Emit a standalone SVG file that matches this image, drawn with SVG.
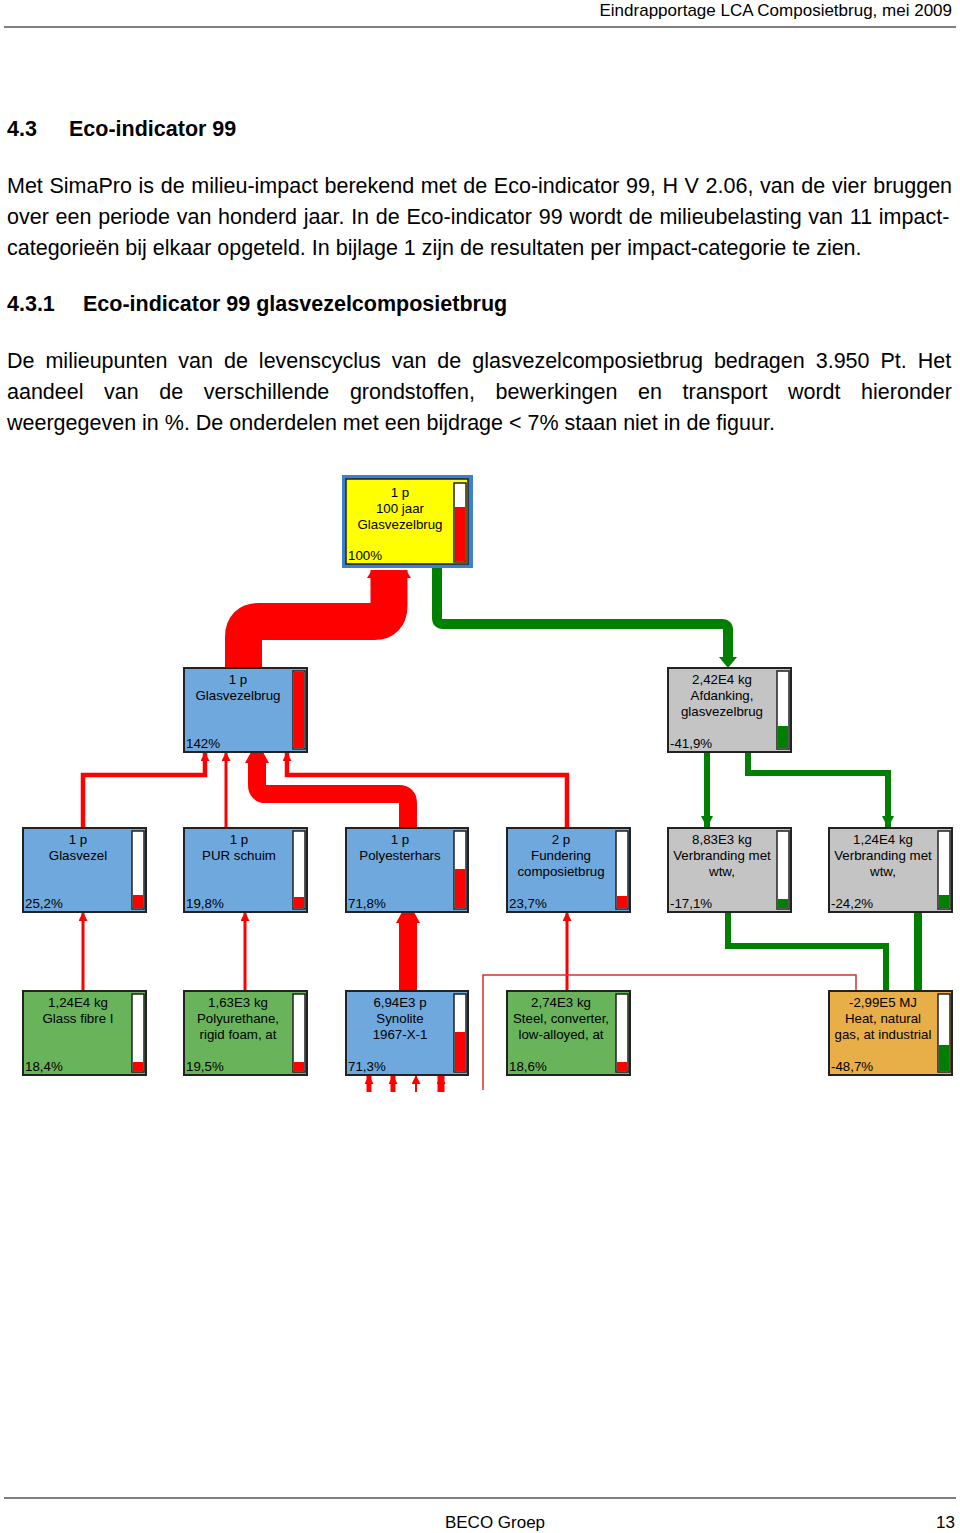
<svg xmlns="http://www.w3.org/2000/svg" width="960" height="1533" viewBox="0 0 960 1533">
<style>
.doc{font-family:"Liberation Sans",Arial,sans-serif;fill:#000}
.body{font-size:21.5px}
.h{font-size:21.5px;font-weight:bold}
.nt{font-family:"Liberation Sans",Arial,sans-serif;font-size:13.3px;fill:#000;text-anchor:middle}
.np{font-family:"Liberation Sans",Arial,sans-serif;font-size:13.3px;fill:#000}
.nb{stroke:#222;stroke-width:2}
.blue{fill:#6fa8dc}
.gray{fill:#c4c4c4}
.grn{fill:#69b35b}
.org{fill:#e8ae48}
.bar{fill:#fff;stroke:#222;stroke-width:1.5}
.fr{fill:#ff0000}
.fg{fill:#008000}
.cr{fill:none;stroke:#ff0000}
.cg{fill:none;stroke:#008000}
.rule{stroke:#555;stroke-width:1.5}
</style>
<defs>
<marker id="ar" viewBox="0 0 10 10" refX="10" refY="5" markerWidth="9" markerHeight="9" markerUnits="userSpaceOnUse" orient="auto"><path d="M0,0 L10,5 L0,10 z" fill="#ff0000"/></marker>
<marker id="ag" viewBox="0 0 10 10" refX="10" refY="5" markerWidth="12" markerHeight="14" markerUnits="userSpaceOnUse" orient="auto"><path d="M0,0 L10,5 L0,10 z" fill="#008000"/></marker>
</defs>
<rect width="960" height="1533" fill="#fff"/>

<!-- page header / text -->
<g id="page-text" class="doc">
<text x="952" y="16" font-size="17" text-anchor="end">Eindrapportage LCA Composietbrug, mei 2009</text>
<line class="rule" x1="4" y1="27" x2="956" y2="27"/>
<text class="h" x="7" y="136">4.3</text>
<text class="h" x="69" y="136">Eco-indicator 99</text>
<text class="body" x="7" y="193" word-spacing="0.66">Met SimaPro is de milieu-impact berekend met de Eco-indicator 99, H V 2.06, van de vier bruggen</text>
<text class="body" x="7" y="224" word-spacing="0.78">over een periode van honderd jaar. In de Eco-indicator 99 wordt de milieubelasting van 11 impact-</text>
<text class="body" x="7" y="255">categorieën bij elkaar opgeteld. In bijlage 1 zijn de resultaten per impact-categorie te zien.</text>
<text class="h" x="7" y="311">4.3.1</text>
<text class="h" x="83" y="311">Eco-indicator 99 glasvezelcomposietbrug</text>
<text class="body" x="7" y="368" word-spacing="5">De milieupunten van de levenscyclus van de glasvezelcomposietbrug bedragen 3.950 Pt. Het</text>
<text class="body" x="7" y="399" word-spacing="14.6">aandeel van de verschillende grondstoffen, bewerkingen en transport wordt hieronder</text>
<text class="body" x="7" y="430">weergegeven in %. De onderdelen met een bijdrage &lt; 7% staan niet in de figuur.</text>
<line class="rule" x1="4" y1="1498" x2="956" y2="1498"/>
<text x="495" y="1528" font-size="17" text-anchor="middle">BECO Groep</text>
<text x="955" y="1528" font-size="17" text-anchor="end">13</text>
</g>

<!-- connectors -->
<g id="connectors">
<!-- top -> Glasvezelbrug (red thick) -->
<path class="cr" stroke-width="37" d="M389,570 V606 Q389,621.5 374,621.5 H259 Q243.5,621.5 243.5,637 V668"/>
<polygon fill="#ff0000" points="367,578 411,578 406,570 372,570"/>
<!-- top -> Afdanking (green) -->
<path class="cg" stroke-width="10" d="M437,568 V618 Q437,624 443,624 H722 Q728,624 728,630 V659"/>
<polygon fill="#008000" points="719,657 737,657 728,668"/>
<!-- level 2-3 red -->
<path class="cr" stroke-width="4.5" d="M83,828 V775 H205 V752" marker-end="url(#ar)"/>
<path class="cr" stroke-width="3" d="M226,828 V752" marker-end="url(#ar)"/>
<path class="cr" stroke-width="18" d="M408,828 V803 Q408,794 399,794 H266 Q257,794 257,785 V762"/>
<polygon fill="#ff0000" points="245,763 269,763 263,752 251,752"/>
<path class="cr" stroke-width="4.5" d="M567,828 V775 H287 V752" marker-end="url(#ar)"/>
<!-- level 2-3 green -->
<path class="cg" stroke-width="6" d="M707,752 V828" marker-end="url(#ag)"/>
<path class="cg" stroke-width="6" d="M748,752 V773 H888 V828" marker-end="url(#ag)"/>
<!-- level 3-4 red -->
<path class="cr" stroke-width="3" d="M83,991 V912" marker-end="url(#ar)"/>
<path class="cr" stroke-width="3" d="M245,991 V912" marker-end="url(#ar)"/>
<path class="cr" stroke-width="18" d="M408,991 V922"/>
<polygon fill="#ff0000" points="396,923 420,923 414,912 402,912"/>
<path class="cr" stroke-width="3" d="M567,991 V912" marker-end="url(#ar)"/>
<path fill="none" stroke="#d43030" stroke-width="1.5" d="M483,1090 V975 H856 V991"/>
<!-- level 3-4 green -->
<path class="cg" stroke-width="6" d="M728,912 V946 H886 V991"/>
<path class="cg" stroke-width="8" d="M918,912 V991"/>
<!-- inputs below Synolite -->
<path class="cr" stroke-width="5" d="M369,1092 V1075" marker-end="url(#ar)"/>
<path class="cr" stroke-width="5" d="M393,1092 V1075" marker-end="url(#ar)"/>
<path class="cr" stroke-width="2" d="M416,1092 V1075" marker-end="url(#ar)"/>
<path class="cr" stroke-width="7" d="M441,1092 V1075" marker-end="url(#ar)"/>
</g>

<!-- nodes -->
<g id="n-top">
<rect x="342" y="475" width="131" height="93" fill="#3d80d0"/>
<rect x="346" y="479" width="122" height="85" fill="#ffff00" stroke="#222" stroke-width="1.5"/>
<rect class="bar" x="454" y="483" width="12" height="79"/>
<rect class="fr" x="455" y="507" width="10" height="54"/>
<text class="nt" x="400" y="497">1 p</text>
<text class="nt" x="400" y="513">100 jaar</text>
<text class="nt" x="400" y="529">Glasvezelbrug</text>
<text class="np" x="348" y="560">100%</text>
</g>

<g id="n-glasvezelbrug">
<rect class="nb blue" x="184" y="668" width="123" height="84"/>
<rect class="bar" x="293" y="671" width="12" height="78"/>
<rect class="fr" x="294" y="672" width="10" height="76"/>
<text class="nt" x="238" y="684">1 p</text>
<text class="nt" x="238" y="700">Glasvezelbrug</text>
<text class="np" x="186" y="748">142%</text>
</g>

<g id="n-afdanking">
<rect class="nb gray" x="668" y="668" width="123" height="84"/>
<rect class="bar" x="777" y="671" width="12" height="78"/>
<rect class="fg" x="778" y="726" width="10" height="22"/>
<text class="nt" x="722" y="684">2,42E4 kg</text>
<text class="nt" x="722" y="700">Afdanking,</text>
<text class="nt" x="722" y="716">glasvezelbrug</text>
<text class="np" x="670" y="748">-41,9%</text>
</g>

<g id="n-glasvezel">
<rect class="nb blue" x="23" y="828" width="123" height="84"/>
<rect class="bar" x="132" y="831" width="12" height="78"/>
<rect class="fr" x="133" y="895" width="10" height="13"/>
<text class="nt" x="78" y="844">1 p</text>
<text class="nt" x="78" y="860">Glasvezel</text>
<text class="np" x="25" y="908">25,2%</text>
</g>

<g id="n-pur">
<rect class="nb blue" x="184" y="828" width="123" height="84"/>
<rect class="bar" x="293" y="831" width="12" height="78"/>
<rect class="fr" x="294" y="897" width="10" height="11"/>
<text class="nt" x="239" y="844">1 p</text>
<text class="nt" x="239" y="860">PUR schuim</text>
<text class="np" x="186" y="908">19,8%</text>
</g>

<g id="n-polyesterhars">
<rect class="nb blue" x="346" y="828" width="122" height="84"/>
<rect class="bar" x="454" y="831" width="12" height="78"/>
<rect class="fr" x="455" y="869" width="10" height="39"/>
<text class="nt" x="400" y="844">1 p</text>
<text class="nt" x="400" y="860">Polyesterhars</text>
<text class="np" x="348" y="908">71,8%</text>
</g>

<g id="n-fundering">
<rect class="nb blue" x="507" y="828" width="123" height="84"/>
<rect class="bar" x="616" y="831" width="12" height="78"/>
<rect class="fr" x="617" y="896" width="10" height="12"/>
<text class="nt" x="561" y="844">2 p</text>
<text class="nt" x="561" y="860">Fundering</text>
<text class="nt" x="561" y="876">composietbrug</text>
<text class="np" x="509" y="908">23,7%</text>
</g>

<g id="n-verbranding1">
<rect class="nb gray" x="668" y="828" width="123" height="84"/>
<rect class="bar" x="777" y="831" width="12" height="78"/>
<rect class="fg" x="778" y="899" width="10" height="9"/>
<text class="nt" x="722" y="844">8,83E3 kg</text>
<text class="nt" x="722" y="860">Verbranding met</text>
<text class="nt" x="722" y="876">wtw,</text>
<text class="np" x="670" y="908">-17,1%</text>
</g>

<g id="n-verbranding2">
<rect class="nb gray" x="829" y="828" width="123" height="84"/>
<rect class="bar" x="938" y="831" width="12" height="78"/>
<rect class="fg" x="939" y="895" width="10" height="13"/>
<text class="nt" x="883" y="844">1,24E4 kg</text>
<text class="nt" x="883" y="860">Verbranding met</text>
<text class="nt" x="883" y="876">wtw,</text>
<text class="np" x="831" y="908">-24,2%</text>
</g>

<g id="n-glassfibre">
<rect class="nb grn" x="23" y="991" width="123" height="84"/>
<rect class="bar" x="132" y="994" width="12" height="78"/>
<rect class="fr" x="133" y="1062" width="10" height="9"/>
<text class="nt" x="78" y="1007">1,24E4 kg</text>
<text class="nt" x="78" y="1023">Glass fibre I</text>
<text class="np" x="25" y="1071">18,4%</text>
</g>

<g id="n-polyurethane">
<rect class="nb grn" x="184" y="991" width="123" height="84"/>
<rect class="bar" x="293" y="994" width="12" height="78"/>
<rect class="fr" x="294" y="1062" width="10" height="9"/>
<text class="nt" x="238" y="1007">1,63E3 kg</text>
<text class="nt" x="238" y="1023">Polyurethane,</text>
<text class="nt" x="238" y="1039">rigid foam, at</text>
<text class="np" x="186" y="1071">19,5%</text>
</g>

<g id="n-synolite">
<rect class="nb blue" x="346" y="991" width="122" height="84"/>
<rect class="bar" x="454" y="994" width="12" height="78"/>
<rect class="fr" x="455" y="1032" width="10" height="39"/>
<text class="nt" x="400" y="1007">6,94E3 p</text>
<text class="nt" x="400" y="1023">Synolite</text>
<text class="nt" x="400" y="1039">1967-X-1</text>
<text class="np" x="348" y="1071">71,3%</text>
</g>

<g id="n-steel">
<rect class="nb grn" x="507" y="991" width="123" height="84"/>
<rect class="bar" x="616" y="994" width="12" height="78"/>
<rect class="fr" x="617" y="1062" width="10" height="9"/>
<text class="nt" x="561" y="1007">2,74E3 kg</text>
<text class="nt" x="561" y="1023">Steel, converter,</text>
<text class="nt" x="561" y="1039">low-alloyed, at</text>
<text class="np" x="509" y="1071">18,6%</text>
</g>

<g id="n-heat">
<rect class="nb org" x="829" y="991" width="123" height="84"/>
<rect class="bar" x="938" y="994" width="12" height="78"/>
<rect class="fg" x="939" y="1045" width="10" height="26"/>
<text class="nt" x="883" y="1007">-2,99E5 MJ</text>
<text class="nt" x="883" y="1023">Heat, natural</text>
<text class="nt" x="883" y="1039">gas, at industrial</text>
<text class="np" x="831" y="1071">-48,7%</text>
</g>
</svg>
